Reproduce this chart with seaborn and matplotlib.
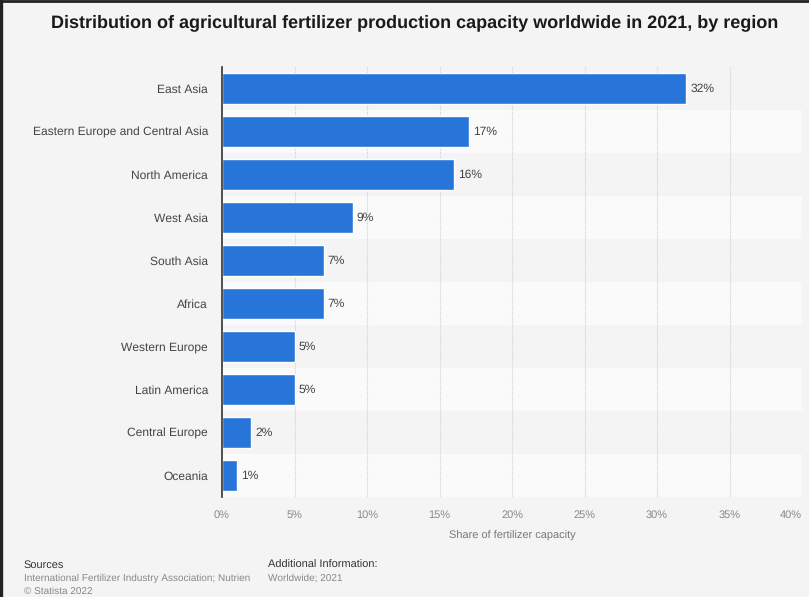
import matplotlib
matplotlib.use("Agg")
import matplotlib.pyplot as plt
import seaborn as sns
import pandas as pd
from matplotlib.lines import Line2D

regions = ["East Asia", "Eastern Europe and Central Asia", "North America", "West Asia",
           "South Asia", "Africa", "Western Europe", "Latin America", "Central Europe", "Oceania"]
shares = [32, 17, 16, 9, 7, 7, 5, 5, 2, 1]
xticks = [0, 5, 10, 15, 20, 25, 30, 35, 40]

df = pd.DataFrame({"region": regions, "share": shares})

sns.set_theme(style="white")
plt.rcParams["font.family"] = ["Liberation Sans", "DejaVu Sans"]
plt.rcParams["text.hinting"] = "no_hinting"
plt.rcParams["text.hinting_factor"] = 1

W, H = 809, 597
fig = plt.figure(figsize=(W / 100, H / 100), dpi=100)
fig.patch.set_facecolor("#f4f4f4")

ax = fig.add_axes([222 / W, 1 - 497 / H, (802 - 222) / W, (497 - 67) / H])
ax.set_facecolor("#f4f4f4")

# alternating row bands
for i in range(len(regions)):
    if i % 2 == 1:
        ax.axhspan(i - 0.5, i + 0.5, color="#fafafa", zorder=0, lw=0)

for t in xticks[1:]:
    ax.axvline(t, color="#d0d0d0", lw=0.8, ls=(0, (1, 1)), zorder=0.5)

sns.barplot(data=df, x="share", y="region", orient="h", color="#2775d9",
            saturation=1, width=0.7, ax=ax, zorder=2)

for i, v in enumerate(shares):
    ax.text(v + 0.3, i, f"{v}%", va="center", ha="left", fontsize=8.5, color="#444444")

ax.set_xlim(0, 40)
ax.set_ylim(len(regions) - 0.5, -0.5)
ax.set_xticks(xticks)
ax.set_xticklabels([f"{t}%" for t in xticks], fontsize=7.8, color="#888888")
last = ax.get_xticklabels()[-1]
last.set_horizontalalignment("right")
ax.tick_params(axis="x", length=0, pad=9)
ax.tick_params(axis="y", length=0, pad=10, labelsize=8.8, labelcolor="#444444")
ax.set_ylabel("")
ax.set_xlabel("Share of fertilizer capacity", fontsize=7.8, color="#777777", labelpad=8)
for s in ["top", "right", "bottom"]:
    ax.spines[s].set_visible(False)
ax.spines["left"].set_color("#333333")
ax.spines["left"].set_linewidth(1.2)

fig.text(415 / W, 1 - 23 / H,
         "Distribution of agricultural fertilizer production capacity worldwide in 2021, by region",
         ha="center", va="center", fontsize=12.9, fontweight="bold", color="#1a1a1a")

fig.text(24 / W, 1 - 565 / H, "Sources", fontsize=8, color="#333333", va="center")
fig.text(24 / W, 1 - 578 / H, "International Fertilizer Industry Association; Nutrien",
         fontsize=7.4, color="#888888", va="center")
fig.text(24 / W, 1 - 591 / H, "\u00a9 Statista 2022", fontsize=7.4, color="#888888", va="center")
fig.text(268 / W, 1 - 565 / H, "Additional Information:", fontsize=8, color="#333333", va="center")
fig.text(268 / W, 1 - 578 / H, "Worldwide; 2021", fontsize=7.4, color="#888888", va="center")

# dark frame on the left and top edges
fig.add_artist(Line2D([1.2 / W, 1.2 / W], [0, 1], transform=fig.transFigure, color="#222222", lw=2.4))
fig.add_artist(Line2D([0, 1], [1 - 1 / H, 1 - 1 / H], transform=fig.transFigure, color="#222222", lw=2))

fig.savefig("out.png", dpi=100, facecolor=fig.get_facecolor())
